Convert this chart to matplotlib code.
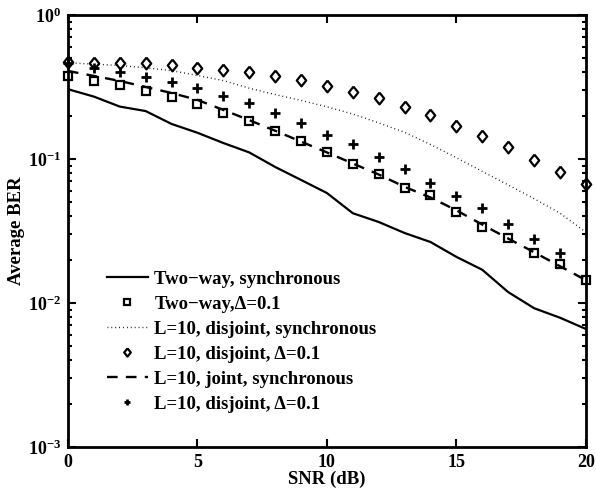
import numpy as np
import matplotlib
matplotlib.use("Agg")
import matplotlib.pyplot as plt
from matplotlib.ticker import LogLocator, NullFormatter

plt.rcParams['font.family'] = 'Liberation Serif'
plt.rcParams['font.weight'] = 'bold'
plt.rcParams['mathtext.fontset'] = 'custom'
plt.rcParams['mathtext.rm'] = 'Liberation Serif:bold'
plt.rcParams['mathtext.bf'] = 'Liberation Serif:bold'
plt.rcParams['mathtext.default'] = 'bf'

snr = list(range(0, 21))
snr_plus = list(range(0, 20))

two_way_sync = [0.305, 0.271, 0.231, 0.215, 0.175, 0.152, 0.129, 0.111, 0.088, 0.0715,
                0.058, 0.042, 0.0365, 0.0306, 0.0265, 0.0209, 0.017, 0.0119, 0.0092, 0.0079, 0.0066]
two_way_delta = [0.377, 0.348, 0.327, 0.298, 0.268, 0.241, 0.208, 0.1845, 0.156, 0.133,
                 0.112, 0.0923, 0.0783, 0.0632, 0.0562, 0.0427, 0.0339, 0.0284, 0.0223, 0.0186, 0.0144]
disj_sync = [0.465, 0.455, 0.445, 0.43, 0.41, 0.38, 0.35, 0.31, 0.28, 0.255,
             0.23, 0.205, 0.178, 0.153, 0.126, 0.102, 0.082, 0.066, 0.053, 0.042, 0.031]
disj_delta = [0.474, 0.466, 0.466, 0.462, 0.450, 0.430, 0.415, 0.404, 0.377, 0.354,
              0.323, 0.293, 0.264, 0.231, 0.202, 0.170, 0.144, 0.1205, 0.0984, 0.0816, 0.0668]
joint_sync = [0.408, 0.377, 0.348, 0.316, 0.287, 0.257, 0.219, 0.186, 0.157, 0.132,
              0.111, 0.093, 0.078, 0.064, 0.054, 0.044, 0.035, 0.028, 0.0225, 0.018, 0.0144]
disj_delta2 = [0.46, 0.427, 0.404, 0.373, 0.344, 0.313, 0.275, 0.246, 0.208, 0.179,
               0.147, 0.1265, 0.1027, 0.0848, 0.0678, 0.0553, 0.0455, 0.0354, 0.0277, 0.0221]

labels = ['Two\u2212way, synchronous', 'Two\u2212way,\u0394=0.1', 'L=10, disjoint, synchronous',
          'L=10, disjoint, \u0394=0.1', 'L=10, joint, synchronous', 'L=10, disjoint, \u0394=0.1']

# slightly tall diamond, like the matlab one
diamond = [(0, 1), (0.8, 0), (0, -1), (-0.8, 0), (0, 1)]

fig = plt.figure(figsize=(5.96, 4.97), dpi=100)
ax = fig.add_axes([0.114, 0.1006, 0.869, 0.8694])

ax.plot(snr, two_way_sync, 'k-', lw=1.6, label=labels[0])
ax.plot(snr, two_way_delta, 'ks', ms=5.5, mfc='white', mew=1.6, ls='none', label=labels[1], clip_on=False)
ax.plot(snr, disj_sync, 'k:', lw=1.0, dashes=(0.6, 2.2), label=labels[2])
ax.plot(snr, disj_delta, color='k', marker=diamond, ms=8.5, mfc='white', mew=1.6, ls='none',
        label=labels[3], clip_on=False)
ax.plot(snr, joint_sync, 'k--', lw=1.7, dashes=(4.5, 3.5), label=labels[4])
ax.plot(snr_plus, disj_delta2, 'k+', ms=7, mew=2, ls='none', label=labels[5], clip_on=False)

ax.set_yscale('log')
ax.set_xlim(0, 20)
ax.set_ylim(1e-3, 1)
ax.set_xticks([0, 5, 10, 15, 20])
ax.yaxis.set_major_locator(LogLocator(base=10, numticks=10))
ax.yaxis.set_minor_locator(LogLocator(base=10, subs=np.arange(2, 10), numticks=10))
ax.yaxis.set_minor_formatter(NullFormatter())
ax.tick_params(which='both', direction='in', top=True, right=True, labelsize=13, width=1.5)
ax.tick_params(which='major', length=6, pad=5)
ax.tick_params(which='minor', length=3)
for s in ax.spines.values():
    s.set_linewidth(2)

ax.set_xlabel('SNR (dB)', fontsize=13.5, fontweight='bold', labelpad=0)
ax.set_ylabel('Average BER', fontsize=13.5, fontweight='bold', labelpad=2)

ax.legend(loc='lower left', bbox_to_anchor=(0.06, 0.062), frameon=False,
          handlelength=2.2, handletextpad=0.35, labelspacing=0.42, markerscale=0.7,
          borderaxespad=0, prop={'weight': 'bold', 'size': 13.5})

fig.savefig('out.png', dpi=100)
